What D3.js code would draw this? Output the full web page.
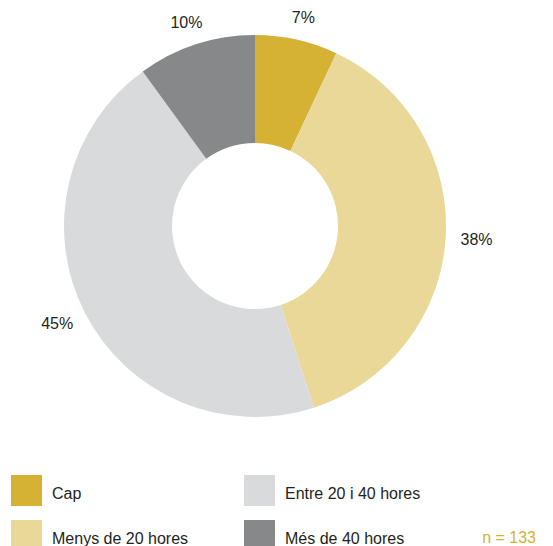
<!DOCTYPE html>
<html>
<head>
<meta charset="utf-8">
<script src="https://cdn.jsdelivr.net/npm/d3@7"></script>
<style>
  body { margin: 0; background: #fff; }
  svg { display: block; font-family: "Liberation Sans", Arial, sans-serif; }
</style>
</head>
<body>
<div id="chart"></div>
<script>
const categories = ["Cap", "Menys de 20 hores", "Entre 20 i 40 hores", "Més de 40 hores"];
const values = [7, 38, 45, 10];
const colors = ["#d5b134", "#e9d898", "#d9dadc", "#87888a"];
const legendOrder = [0, 2, 1, 3]; // row-wise: Cap, Entre / Menys, Més
const sampleLabel = "n = 133";

const width = 553, height = 546;
const cx = 255, cy = 226;
const outerR = 191, innerR = 83;
const labelRx = 222, labelRy = 214;

const svg = d3.select("#chart").append("svg")
  .attr("width", width)
  .attr("height", height);

const pie = d3.pie().sort(null).value(d => d);
const arc = d3.arc().innerRadius(innerR).outerRadius(outerR);

const g = svg.append("g").attr("transform", `translate(${cx},${cy})`);
const arcs = pie(values);

g.selectAll("path.slice")
  .data(arcs)
  .enter().append("path")
  .attr("class", "slice")
  .attr("d", arc)
  .attr("fill", (d, i) => colors[i]);

const midAngle = d => (d.startAngle + d.endAngle) / 2;

g.selectAll("text.pct")
  .data(arcs)
  .enter().append("text")
  .attr("class", "pct")
  .attr("x", d => Math.sin(midAngle(d)) * labelRx)
  .attr("y", d => -Math.cos(midAngle(d)) * labelRy)
  .attr("text-anchor", "middle")
  .attr("dominant-baseline", "central")
  .attr("font-size", 16)
  .attr("fill", "#231f20")
  .text(d => d.data + "%");

// legend, 2 columns
const colX = d3.scaleOrdinal().domain([0, 1]).range([11, 244]);
const rowY = d3.scaleOrdinal().domain([0, 1]).range([475, 520]);

const legend = svg.append("g");
const items = legend.selectAll("g.item")
  .data(legendOrder)
  .enter().append("g")
  .attr("class", "item")
  .attr("transform", (k, j) => `translate(${colX(j % 2)},${rowY(Math.floor(j / 2))})`);

items.append("rect")
  .attr("width", 31)
  .attr("height", 31)
  .attr("fill", k => colors[k]);

items.append("text")
  .attr("x", 41)
  .attr("y", 24)
  .attr("font-size", 16)
  .attr("fill", "#231f20")
  .text(k => categories[k]);

svg.append("text")
  .attr("x", 536)
  .attr("y", 543)
  .attr("text-anchor", "end")
  .attr("font-size", 16)
  .attr("fill", "#d5b134")
  .text(sampleLabel);
</script>
</body>
</html>
